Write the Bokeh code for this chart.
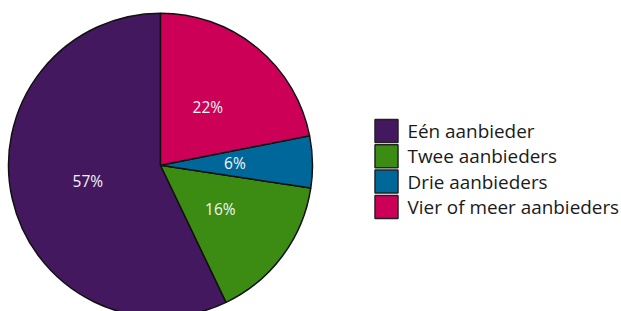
import numpy as np
from bokeh.plotting import figure
from bokeh.models import Range1d, ColumnDataSource
from bokeh.core.properties import value
from bokeh.embed import file_html
from bokeh.resources import INLINE

categories = ["Eén aanbieder", "Twee aanbieders", "Drie aanbieders", "Vier of meer aanbieders"]
shares = [57.1, 15.5, 5.5, 21.9]
labels = ["57%", "16%", "6%", "22%"]
colors = ["#44185E", "#3C8C14", "#00679A", "#CC0057"]

W, H = 621, 311
p = figure(width=W, height=H, output_backend="svg", toolbar_location=None,
           x_range=Range1d(0, W), y_range=Range1d(0, H),
           min_border=0, outline_line_color=None)
p.axis.visible = False
p.grid.visible = False
p.background_fill_color = "white"
p.border_fill_color = "white"

cx, cy, r = 160, H - 164.7, 152
frac = np.array(shares, dtype=float) / np.sum(shares)
ends = np.pi / 2 + 2 * np.pi * np.cumsum(frac)
starts = np.concatenate([[np.pi / 2], ends[:-1]])
mids = (starts + ends) / 2

src = ColumnDataSource(dict(start=starts, end=ends, color=colors, cat=categories,
                            lx=cx + 0.49 * r * np.cos(mids), ly=cy + 0.49 * r * np.sin(mids) + 1,
                            lab=labels))
p.wedge(x=cx, y=cy, radius=r, start_angle="start", end_angle="end", source=src,
        fill_color="color", line_color="#111111", line_width=1.5)
p.text(x="lx", y="ly", text="lab", source=src, text_align="center", text_baseline="middle",
       text_color="#f5f5f5", text_font=value("Open Sans"), text_font_size="15.5px")

# legend drawn manually
step = 25.3
ly0 = H - 130.5
leg_y = [ly0 - i * step for i in range(len(categories))]
p.rect(x=386, y=leg_y, width=23, height=23, fill_color=colors, line_color="#222222", line_width=1.5)
p.text(x=407, y=leg_y, text=categories, text_align="left", text_baseline="middle",
       text_color="#1a1a1a", text_font=value("Open Sans"), text_font_size="18.9px")

open("out.html", "w").write(file_html(p, INLINE))
